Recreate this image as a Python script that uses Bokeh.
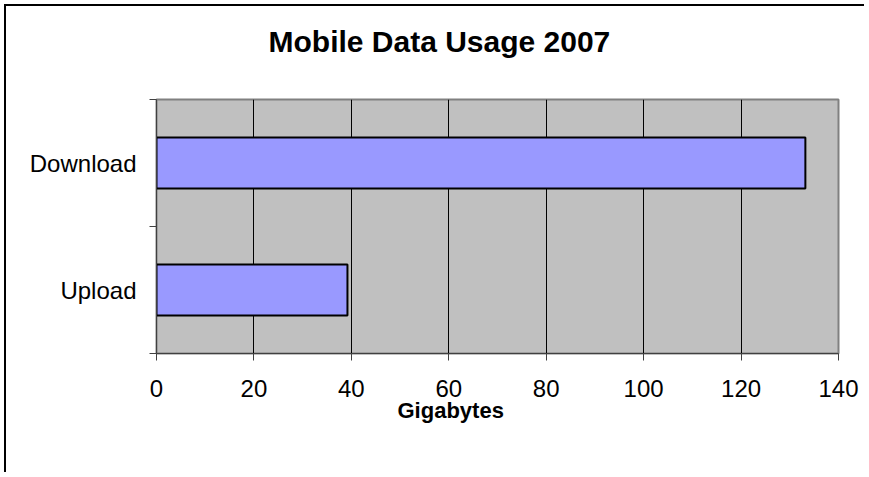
from bokeh.plotting import figure
from bokeh.models import Range1d, FixedTicker, Title
from bokeh.embed import file_html
from bokeh.resources import INLINE

# Data
categories = ["Upload", "Download"]      # bottom to top
gigabytes = [39.2, 133.2]
x_ticks = [0, 20, 40, 60, 80, 100, 120, 140]
title_text = "Mobile Data Usage 2007"
x_label = "Gigabytes"

FONT = "Liberation Sans"

n = len(categories)
y_centres = [i + 0.5 for i in range(n)]
y_edges = [float(i) for i in range(n + 1)]

p = figure(width=860, height=468, output_backend="svg", toolbar_location=None,
           x_range=Range1d(x_ticks[0], x_ticks[-1]), y_range=Range1d(0, n),
           min_border_left=150, min_border_right=28, min_border_top=93,
           min_border_bottom=121)
p.title = None

# chart-area border (left and top edges visible in the view)
p.styles = {"border-left": "2px solid black", "border-top": "2px solid black",
            "margin-left": "4px", "margin-top": "4px"}

p.background_fill_color = "#C0C0C0"
p.border_fill_color = "white"
p.outline_line_color = "#808080"
p.outline_line_width = 2

p.hbar(y=y_centres, right=gigabytes, left=0, height=0.4,
       fill_color="#9999FF", line_color="black", line_width=2)

p.xaxis.ticker = FixedTicker(ticks=x_ticks)
p.xaxis.major_tick_in = 0
p.xaxis.major_tick_out = 7
p.xaxis.minor_tick_line_color = None
p.xaxis.axis_line_color = "#404040"
p.xaxis.major_tick_line_color = "#404040"
p.xaxis.major_label_text_font = FONT
p.xaxis.major_label_text_font_size = "24px"
p.xaxis.major_label_text_color = "black"
p.xaxis.major_label_standoff = 19

p.yaxis.ticker = FixedTicker(ticks=y_centres, minor_ticks=y_edges)
p.yaxis.major_label_overrides = {c: lab for c, lab in zip(y_centres, categories)}
p.yaxis.major_tick_line_color = None
p.yaxis.minor_tick_in = 0
p.yaxis.minor_tick_out = 7
p.yaxis.minor_tick_line_color = "#404040"
p.yaxis.axis_line_color = "#404040"
p.yaxis.major_label_text_font = FONT
p.yaxis.major_label_text_font_size = "24px"
p.yaxis.major_label_text_color = "black"
p.yaxis.major_label_standoff = 13

p.xgrid.grid_line_color = "black"
p.xgrid.grid_line_width = 1
p.ygrid.grid_line_color = None

# spacer between the frame and the title (closest to the frame)
p.add_layout(Title(text=" ", text_font=FONT, text_font_size="1px",
                   standoff=39), "above")
p.add_layout(Title(text=title_text, align="left", offset=112,
                   text_font=FONT, text_font_size="30px", text_font_style="bold",
                   text_color="black", standoff=0), "above")

p.add_layout(Title(text=x_label, align="left", offset=241,
                   text_font=FONT, text_font_size="22px", text_font_style="bold",
                   text_color="black", standoff=-8), "below")

open("out.html", "w").write(file_html(p, INLINE))
